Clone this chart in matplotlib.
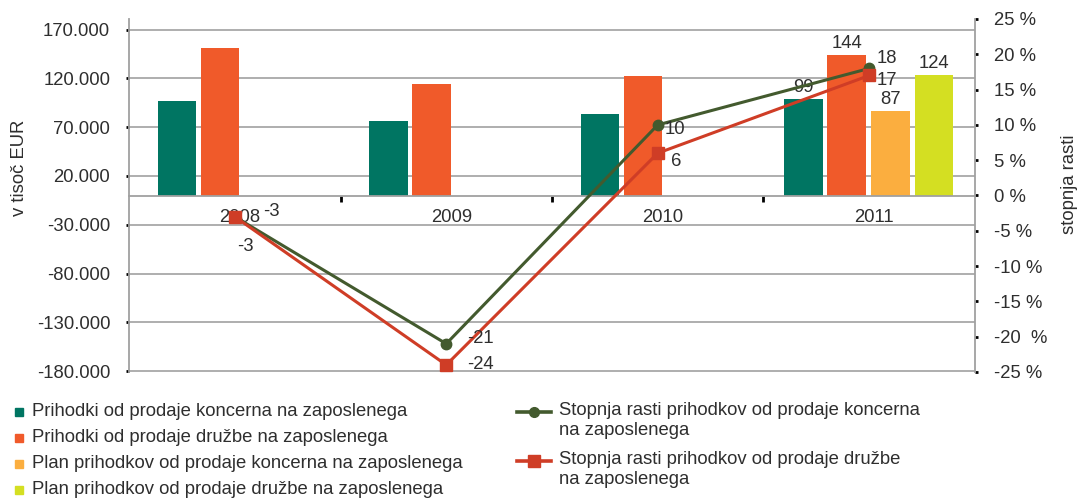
import matplotlib
matplotlib.use('Agg')
import matplotlib.pyplot as plt
import numpy as np
from matplotlib.lines import Line2D
from matplotlib.patches import Rectangle
from matplotlib.transforms import ScaledTranslation

# ---- data ----
years = ['2008', '2009', '2010', '2011']
koncern = [97000, 76000, 83500, 99000]
druzba = [151000, 114000, 122500, 144000]
plan_koncern = [np.nan, np.nan, np.nan, 87000]
plan_druzba = [np.nan, np.nan, np.nan, 124000]
rast_koncern = [-3, -21, 10, 18]
rast_druzba = [-3, -24, 6, 17]

bar_names = ['Prihodki od prodaje koncerna na zaposlenega',
             'Prihodki od prodaje družbe na zaposlenega',
             'Plan prihodkov od prodaje koncerna na zaposlenega',
             'Plan prihodkov od prodaje družbe na zaposlenega']
line_names = ['Stopnja rasti prihodkov od prodaje koncerna\nna zaposlenega',
              'Stopnja rasti prihodkov od prodaje družbe\nna zaposlenega']
left_ticks = [-180000, -130000, -80000, -30000, 20000, 70000, 120000, 170000]
left_ticklabels = ['-180.000', '-130.000', '-80.000', '-30.000', '20.000', '70.000', '120.000', '170.000']
right_ticks = [-25, -20, -15, -10, -5, 0, 5, 10, 15, 20, 25]
right_ticklabels = ['-25 %', '-20  %', '-15 %', '-10 %', '-5 %', '0 %', '5 %', '10 %', '15 %', '20 %', '25 %']
ylabel_left = 'v tisoč EUR'
ylabel_right = 'stopnja rasti'

# ---- style ----
FONT = 'Liberation Sans'
FS = 13.3
TXT = '#2e2e2e'
bar_colors = ['#007562', '#F05A2A', '#FBAE3F', '#D4DF22']
line_colors = ['#435A2E', '#CF3D26']
plt.rcParams['font.family'] = [FONT, 'DejaVu Sans']
plt.rcParams['font.size'] = FS
plt.rcParams['text.color'] = TXT

W, H = 1089, 499
fig = plt.figure(figsize=(W / 100, H / 100), dpi=100)
ax = fig.add_axes([129 / W, 1 - 372 / H, (975 - 129) / W, (372 - 19) / H])
ax2 = ax.twinx()

x = np.arange(len(years))
bw = 0.182
offsets = [-0.31, -0.107, 0.10, 0.307]
shift = np.where(np.isnan(plan_koncern), 0.037, 0.0)
series = [koncern, druzba, plan_koncern, plan_druzba]
for i, (vals, col) in enumerate(zip(series, bar_colors)):
    vals = np.array(vals, dtype=float)
    ax.bar(x + offsets[i] + shift, vals, width=bw, color=col, zorder=2)
    # value labels in the plan year
    for j in range(len(years)):
        if not np.isnan(plan_koncern[j]) and not np.isnan(vals[j]):
            ax.annotate(f'{vals[j] / 1000:.0f}', (x[j] + offsets[i] + shift[j], vals[j]),
                        xytext=(0, 2.0), textcoords='offset points',
                        ha='center', va='bottom', fontsize=FS, color=TXT)

ax.set_xlim(-0.5, len(years) - 0.5)
ax.set_ylim(-181000, 181000)
ax.set_yticks(left_ticks)
ax.set_yticklabels(left_ticklabels)
ax.yaxis.grid(True, color='#a8a8a8', lw=1.3)
ax.set_axisbelow(True)
ax.tick_params(axis='y', direction='out', length=2.5, width=2, color='black',
               labelcolor=TXT, pad=11, labelsize=FS)
ax.spines['bottom'].set_position(('data', 0))
ax.spines['bottom'].set_color('#a0a0a0')
ax.spines['bottom'].set_linewidth(1.3)
ax.spines['left'].set_color('#a0a0a0')
ax.spines['left'].set_linewidth(1.3)
ax.spines['top'].set_visible(False)
ax.spines['right'].set_visible(False)
ax.set_xticks(x)
ax.set_xticklabels(years)
ax.set_xticks(x[:-1] + 0.5, minor=True)
ax.tick_params(axis='x', which='major', length=0, pad=10, labelcolor=TXT, labelsize=FS)
ax.tick_params(axis='x', which='minor', direction='out', length=4, width=2, color='black')
for lab in ax.get_xticklabels():
    lab.set_transform(lab.get_transform() + ScaledTranslation(0.05, 0, fig.dpi_scale_trans))

# lines on secondary axis
ax2.plot(x, rast_koncern, color=line_colors[0], lw=2.2, marker='o', ms=7.5, zorder=3)
ax2.plot(x, rast_druzba, color=line_colors[1], lw=2.2, marker='s', ms=9, zorder=4)
ax2.set_ylim(-25, 25)
ax2.set_yticks(right_ticks)
ax2.set_yticklabels(right_ticklabels)
ax2.tick_params(axis='y', direction='out', length=2.5, width=2, color='black',
                labelcolor=TXT, pad=11, labelsize=FS)
for s in ['top', 'left', 'bottom']:
    ax2.spines[s].set_visible(False)
ax2.spines['right'].set_color('#a0a0a0')
ax2.spines['right'].set_linewidth(1.3)

px = 0.72  # points per pixel
lab_off_k = [(2, -30), (21, 5), (7, -5), (7, 10)]
lab_off_d = [(28, 5), (21, 0), (13, -8), (7, -5)]
for vals, offs in [(rast_koncern, lab_off_k), (rast_druzba, lab_off_d)]:
    for j, v in enumerate(vals):
        ax2.annotate(f'{v}', (x[j], v), xytext=(offs[j][0] * px, offs[j][1] * px),
                     textcoords='offset points', ha='left', va='center',
                     fontsize=FS, color=TXT, zorder=5)

fig.text(19 / W, 1 - 168 / H, ylabel_left, rotation=90, ha='center', va='center', fontsize=FS, color=TXT)
fig.text(1069 / W, 1 - 184 / H, ylabel_right, rotation=90, ha='center', va='center', fontsize=FS, color=TXT)

# ---- legend (drawn by hand to follow the reference layout) ----
row_y = [412, 438, 464, 490]
for name, col, yy in zip(bar_names, bar_colors, row_y):
    fig.add_artist(Rectangle((15 / W, 1 - (yy + 4) / H), 8 / W, 8 / H,
                             transform=fig.transFigure, color=col))
    fig.text(32 / W, 1 - yy / H, name, ha='left', va='center', fontsize=FS, color=TXT)

lrow_y = [412, 461]
for name, col, mk, ms, yy in zip(line_names, line_colors, ['o', 's'], [7, 8.5], lrow_y):
    fig.add_artist(Line2D([517 / W, 551 / W], [1 - yy / H, 1 - yy / H], transform=fig.transFigure,
                          color=col, lw=2.6))
    fig.add_artist(Line2D([534 / W], [1 - yy / H], transform=fig.transFigure,
                          color=col, marker=mk, ms=ms, lw=0))
    fig.text(559 / W, 1 - (yy - 10) / H, name, ha='left', va='top', fontsize=FS, color=TXT,
             linespacing=1.2)

fig.savefig('out.png', dpi=100)
